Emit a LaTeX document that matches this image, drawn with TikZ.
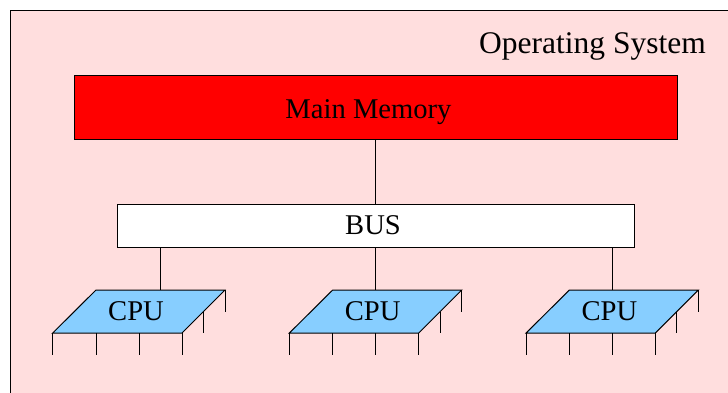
\documentclass[tikz,border=0pt]{standalone}
\usepackage{fontspec}
\setmainfont{Liberation Serif}
\definecolor{ospink}{RGB}{255,222,222}
\definecolor{cpublue}{RGB}{135,206,255}
\tikzset{
  x=1pt,y=-1pt,
  edge/.style={draw=black,line width=1pt},
  box/.style={draw=black,line width=1pt,minimum height=0pt,inner sep=0pt,anchor=north west},
  lbl/.style={font=\fontsize{28.6}{32}\selectfont,inner sep=0pt},
  oslbl/.style={font=\fontsize{31.5}{36}\selectfont,inner sep=0pt},
}
\begin{document}
\begin{tikzpicture}
\useasboundingbox (0,0) rectangle (728,392);
\fill[white] (0,0) rectangle (728,392);
\draw[fill=ospink,line width=1pt] (10,10.5) rectangle (740,400);
\node[oslbl,anchor=base east] (os) at (706,53) {Operating System};
\node[box,fill=red,minimum width=603pt,minimum height=64pt] (mem) at (74,75) {};
\node[lbl,anchor=base] (memlabel) at (368.5,118) {Main Memory};
\node[box,fill=white,minimum width=517pt,minimum height=43pt] (bus) at (117,204) {};
\node[lbl,anchor=base] (buslabel) at (373,234) {BUS};
\foreach \i/\dx in {1/0,2/236.7,3/473.4}{
  \begin{scope}[xshift=\dx pt]
    \draw[box,fill=cpublue] (52.7,333) -- (182,333) -- (225,290) -- (96,290) -- cycle;
    \node[lbl,anchor=base] (cpu\i) at (136,320) {CPU};
    \foreach \px in {52.7,96,139,182} \draw[edge] (\px,333) -- (\px,355);
    \draw[edge] (203.5,311.5) -- (203.5,333);
    \draw[edge] (225,290) -- (225,311.5);
  \end{scope}
}
\coordinate (top1) at (160,290);
\coordinate (top2) at (375.8,290);
\coordinate (top3) at (612.3,290);
\draw[edge] (mem.south -| top2) -- (bus.north -| top2);
\draw[edge] (bus.south -| top1) -- (top1);
\draw[edge] (bus.south -| top2) -- (top2);
\draw[edge] (bus.south -| top3) -- (top3);
\end{tikzpicture}
\end{document}
